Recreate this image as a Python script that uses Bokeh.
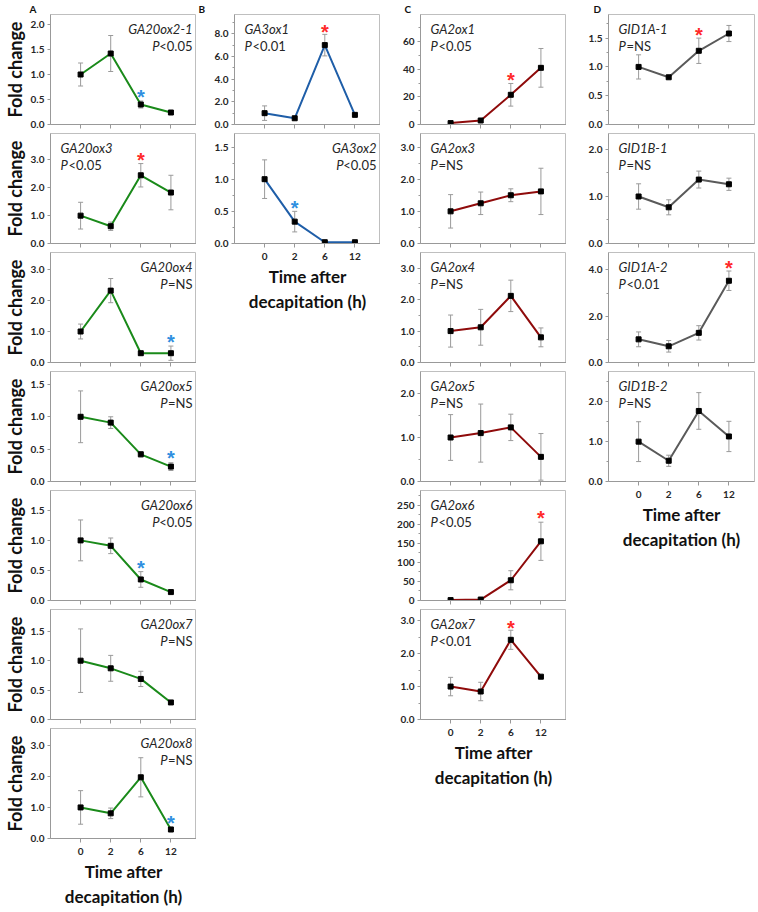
from bokeh.plotting import figure
from bokeh.models import (ColumnDataSource, Range1d, FixedTicker, PrintfTickFormatter,
                          Whisker, TeeHead, Label)
from bokeh.layouts import row, column
from bokeh.embed import file_html
from bokeh.resources import INLINE
from bokeh.core.properties import value

# ---------------- data ----------------
times = ["0", "2", "6", "12"]

# Column A: GA20ox genes
GA20ox2_1 = [1.00, 1.42, 0.40, 0.24]
GA20ox2_1_err = [0.23, 0.36, 0.07, 0.03]
GA20ox3 = [1.00, 0.62, 2.45, 1.83]
GA20ox3_err = [0.48, 0.15, 0.42, 0.62]
GA20ox4 = [1.00, 2.32, 0.30, 0.30]
GA20ox4_err = [0.24, 0.39, 0.06, 0.23]
GA20ox5 = [1.00, 0.91, 0.42, 0.23]
GA20ox5_err = [0.40, 0.09, 0.04, 0.06]
GA20ox6 = [1.00, 0.91, 0.35, 0.14]
GA20ox6_err = [0.34, 0.13, 0.13, 0.02]
GA20ox7 = [1.00, 0.87, 0.69, 0.29]
GA20ox7_err = [0.54, 0.22, 0.13, 0.03]
GA20ox8 = [1.00, 0.81, 1.97, 0.29]
GA20ox8_err = [0.54, 0.17, 0.63, 0.07]

# Column B: GA3ox genes
GA3ox1 = [1.00, 0.55, 7.00, 0.85]
GA3ox1_err = [0.64, 0.05, 0.95, 0.10]
GA3ox2 = [1.00, 0.34, 0.02, 0.02]
GA3ox2_err = [0.30, 0.16, 0.02, 0.02]

# Column C: GA2ox genes
GA2ox1 = [1.0, 2.9, 21.5, 41.0]
GA2ox1_err = [0.5, 0.5, 8.2, 14.0]
GA2ox3 = [1.00, 1.25, 1.50, 1.62]
GA2ox3_err = [0.52, 0.35, 0.20, 0.72]
GA2ox4 = [1.00, 1.12, 2.12, 0.80]
GA2ox4_err = [0.51, 0.57, 0.50, 0.30]
GA2ox5 = [1.00, 1.10, 1.23, 0.56]
GA2ox5_err = [0.52, 0.66, 0.30, 0.53]
GA2ox6 = [1.0, 2.5, 53.0, 155.0]
GA2ox6_err = [0.5, 0.5, 25.0, 50.0]
GA2ox7 = [1.00, 0.85, 2.42, 1.30]
GA2ox7_err = [0.28, 0.28, 0.29, 0.02]

# Column D: GID1 genes
GID1A_1 = [1.00, 0.82, 1.28, 1.58]
GID1A_1_err = [0.21, 0.02, 0.22, 0.14]
GID1B_1 = [1.00, 0.77, 1.36, 1.26]
GID1B_1_err = [0.27, 0.16, 0.18, 0.13]
GID1A_2 = [1.00, 0.70, 1.28, 3.53]
GID1A_2_err = [0.32, 0.25, 0.31, 0.42]
GID1B_2 = [1.00, 0.52, 1.77, 1.13]
GID1B_2_err = [0.50, 0.14, 0.46, 0.38]

# gene name, P text, values, errors, y max, y ticks, tick format, star (time index, y, kind)
panels_A = [
    ("GA20ox2-1", "<0.05", GA20ox2_1, GA20ox2_1_err, 2.2, [0, 0.5, 1.0, 1.5, 2.0], "%.1f", (2, 0.67, "down")),
    ("GA20ox3", "<0.05", GA20ox3, GA20ox3_err, 3.95, [0, 1, 2, 3], "%.1f", (2, 3.2, "up")),
    ("GA20ox4", "=NS", GA20ox4, GA20ox4_err, 3.55, [0, 1, 2, 3], "%.1f", (3, 0.85, "down")),
    ("GA20ox5", "=NS", GA20ox5, GA20ox5_err, 1.7, [0, 0.5, 1.0, 1.5], "%.1f", (3, 0.46, "down")),
    ("GA20ox6", "<0.05", GA20ox6, GA20ox6_err, 1.83, [0, 0.5, 1.0, 1.5], "%.1f", (2, 0.64, "down")),
    ("GA20ox7", "=NS", GA20ox7, GA20ox7_err, 1.87, [0, 0.5, 1.0, 1.5], "%.1f", None),
    ("GA20ox8", "=NS", GA20ox8, GA20ox8_err, 3.54, [0, 1, 2, 3], "%.1f", (3, 0.69, "down")),
]
align_A = ["right", "left", "right", "right", "right", "right", "right"]
panels_B = [
    ("GA3ox1", "<0.01", GA3ox1, GA3ox1_err, 9.7, [0, 2, 4, 6, 8], "%.1f", (2, 8.65, "up")),
    ("GA3ox2", "<0.05", GA3ox2, GA3ox2_err, 1.71, [0, 0.5, 1.0, 1.5], "%.1f", (1, 0.65, "down")),
]
align_B = ["left", "right"]
panels_C = [
    ("GA2ox1", "<0.05", GA2ox1, GA2ox1_err, 79.6, [0, 20, 40, 60], "%d", (2, 36.5, "up")),
    ("GA2ox3", "=NS", GA2ox3, GA2ox3_err, 3.42, [0, 1, 2, 3], "%.1f", None),
    ("GA2ox4", "=NS", GA2ox4, GA2ox4_err, 3.5, [0, 1, 2, 3], "%.1f", None),
    ("GA2ox5", "=NS", GA2ox5, GA2ox5_err, 2.5, [0, 1, 2], "%.1f", None),
    ("GA2ox6", "<0.05", GA2ox6, GA2ox6_err, 288, [0, 50, 100, 150, 200, 250], "%d", (3, 233, "up")),
    ("GA2ox7", "<0.01", GA2ox7, GA2ox7_err, 3.34, [0, 1, 2, 3], "%.1f", (2, 2.97, "up")),
]
align_C = ["left"] * 6
panels_D = [
    ("GID1A-1", "=NS", GID1A_1, GID1A_1_err, 1.91, [0, 0.5, 1.0, 1.5], "%.1f", (2, 1.66, "up")),
    ("GID1B-1", "=NS", GID1B_1, GID1B_1_err, 2.34, [0, 1, 2], "%.1f", None),
    ("GID1A-2", "<0.01", GID1A_2, GID1A_2_err, 4.75, [0, 2, 4], "%.1f", (3, 4.33, "up")),
    ("GID1B-2", "=NS", GID1B_2, GID1B_2_err, 2.76, [0, 1, 2], "%.1f", None),
]
align_D = ["left"] * 4

# ---------------- style ----------------
FW, FH = 146, 110
FONT = "Lato"
TXT = "#262626"
FRAME = "#bfbfbf"
AXIS = "#999999"
ERR = "#9a9a9a"
STAR = {"up": "#ff2a2a", "down": "#2f8fe0"}
P_W = {"<0.05": 33, "<0.01": 33, "=NS": 25}
P_ITALIC_W = 8


def make_panel(spec, align, color, left, right, first, last, letter, letter_x,
               ylabel, minor):
    name, ptxt, vals, errs, ymax, ticks, fmt, star = spec
    idx = list(range(len(times)))
    p = figure(frame_width=FW, frame_height=FH,
               x_range=Range1d(-1.0, 3.85), y_range=Range1d(0, ymax),
               output_backend="svg", toolbar_location=None,
               title=letter if first else None,
               min_border_left=left, min_border_right=right,
               min_border_top=12 if first else 3,
               min_border_bottom=0 if last else 6,
               background_fill_color="white", border_fill_color="white")
    if first:
        p.title.text_font = FONT
        p.title.text_font_style = "bold"
        p.title.text_font_size = "10px"
        p.title.text_color = "#111111"
        p.title.align = "left"
        p.title.offset = letter_x
        p.title.standoff = 0
    p.outline_line_color = FRAME
    p.outline_line_width = 1
    p.grid.visible = False

    # x axis
    xa = p.xaxis[0]
    xa.axis_line_color = AXIS
    if last:
        xa.ticker = FixedTicker(ticks=idx, minor_ticks=[])
        xa.major_label_overrides = {i: t for i, t in enumerate(times)}
        xa.major_tick_out = 4
        xa.major_tick_in = 0
        xa.major_tick_line_color = AXIS
        xa.major_label_text_font = FONT
        xa.major_label_text_font_style = "bold"
        xa.major_label_text_font_size = "10px"
        xa.major_label_text_color = TXT
        xa.major_label_standoff = 5
        xa.axis_label = "Time after\ndecapitation (h)"
        xa.axis_label_text_font = FONT
        xa.axis_label_text_font_style = "bold"
        xa.axis_label_text_font_size = "17px"
        xa.axis_label_text_color = "#111111"
        xa.axis_label_standoff = 3
    else:
        xa.ticker = FixedTicker(ticks=[], minor_ticks=idx)
        xa.minor_tick_out = 4
        xa.minor_tick_in = 0
        xa.minor_tick_line_color = AXIS
        xa.major_tick_out = 0
        xa.major_tick_in = 0
        xa.major_label_standoff = 0

    # y axis
    ya = p.yaxis[0]
    minors = []
    if minor:
        step = ticks[1] - ticks[0]
        t = step / 2
        while t < ymax:
            minors.append(t)
            t += step
    ya.ticker = FixedTicker(ticks=ticks, minor_ticks=minors)
    ya.formatter = PrintfTickFormatter(format=fmt)
    ya.axis_line_color = AXIS
    ya.major_tick_line_color = AXIS
    ya.minor_tick_line_color = AXIS
    ya.major_tick_out = 3
    ya.major_tick_in = 0
    ya.minor_tick_out = 2
    ya.minor_tick_in = 0
    ya.major_label_text_font = FONT
    ya.major_label_text_font_style = "bold"
    ya.major_label_text_font_size = "10px"
    ya.major_label_text_color = TXT
    ya.major_label_standoff = 3
    if ylabel:
        ya.axis_label = "Fold change"
        ya.axis_label_text_font = FONT
        ya.axis_label_text_font_style = "bold"
        ya.axis_label_text_font_size = "18px"
        ya.axis_label_text_color = "#111111"
        ya.axis_label_standoff = 2

    # error bars
    src = ColumnDataSource(dict(x=idx, y=vals,
                                upper=[v + e for v, e in zip(vals, errs)],
                                lower=[v - e for v, e in zip(vals, errs)]))
    wh = Whisker(source=src, base="x", upper="upper", lower="lower",
                 line_color=ERR, line_width=1,
                 upper_head=TeeHead(size=5, line_color=ERR, line_width=1),
                 lower_head=TeeHead(size=5, line_color=ERR, line_width=1))
    p.add_layout(wh)
    p.line("x", "y", source=src, line_color=color, line_width=2)
    p.scatter("x", "y", source=src, marker="square", size=5,
              fill_color="black", line_color="black")

    if star is not None:
        si, sy, kind = star
        p.text(x=[idx[si]], y=[sy], text=["*"], text_color=STAR[kind],
               text_font=value("Liberation Sans"), text_font_size="20px",
               text_font_style="bold",
               text_align="center", text_baseline="middle", y_offset=6)

    # gene name and P value
    gy = FH - 14
    py = FH - 31
    if align == "left":
        gx = 10
        p.add_layout(Label(x=gx, y=gy, x_units="screen", y_units="screen", text=name,
                           text_font=FONT, text_font_style="italic", text_font_size="13px",
                           text_color=TXT, text_align="left", text_baseline="middle"))
        p.add_layout(Label(x=gx, y=py, x_units="screen", y_units="screen", text="P",
                           text_font=FONT, text_font_style="italic", text_font_size="13px",
                           text_color=TXT, text_align="left", text_baseline="middle"))
        p.add_layout(Label(x=gx + P_ITALIC_W, y=py, x_units="screen", y_units="screen",
                           text=ptxt, text_font=FONT, text_font_size="13px",
                           text_color=TXT, text_align="left", text_baseline="middle"))
    else:
        gx = FW - 4
        p.add_layout(Label(x=gx, y=gy, x_units="screen", y_units="screen", text=name,
                           text_font=FONT, text_font_style="italic", text_font_size="13px",
                           text_color=TXT, text_align="right", text_baseline="middle"))
        p.add_layout(Label(x=gx, y=py, x_units="screen", y_units="screen", text=ptxt,
                           text_font=FONT, text_font_size="13px",
                           text_color=TXT, text_align="right", text_baseline="middle"))
        p.add_layout(Label(x=gx - P_W[ptxt], y=py, x_units="screen", y_units="screen",
                           text="P", text_font=FONT, text_font_style="italic",
                           text_font_size="13px", text_color=TXT, text_align="right",
                           text_baseline="middle"))
    return p


columns_spec = [
    (panels_A, align_A, "#1a8a1a", 41, 0, "A", -21, True, False),
    (panels_B, align_B, "#1f5ea8", 38, 0, "B", -36, False, True),
    (panels_C, align_C, "#8f0b0b", 40, 0, "C", -16, False, True),
    (panels_D, align_D, "#5a5a5a", 42, 1, "D", -15, False, True),
]

cols = []
for specs, aligns, color, left, right, letter, lx, ylabel, minor in columns_spec:
    figs = []
    n = len(specs)
    for i, s in enumerate(specs):
        figs.append(make_panel(s, aligns[i], color, left, right, i == 0, i == n - 1,
                               letter, lx, ylabel, minor))
    cols.append(column(*figs, spacing=0))

layout = row(*cols, spacing=0)

open("out.html", "w").write(file_html(layout, INLINE))
